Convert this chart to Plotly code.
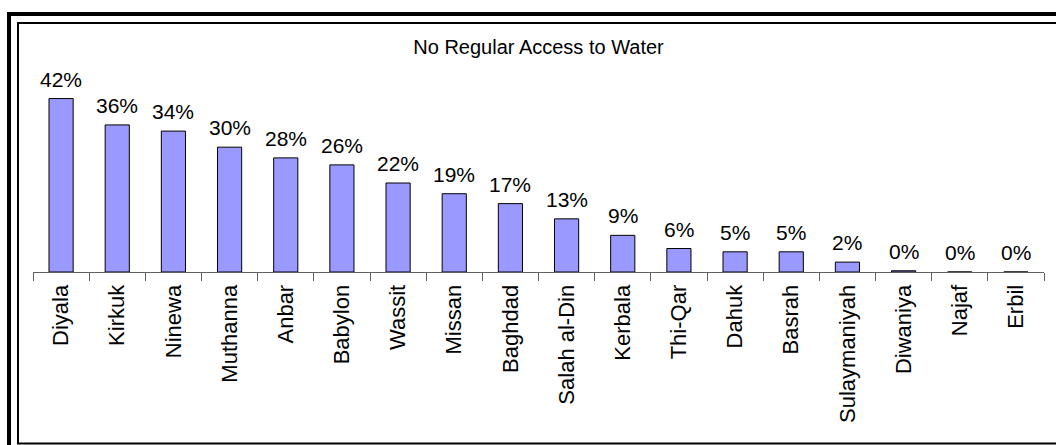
import plotly.graph_objects as go

# Share of households with no regular access to water, by governorate (%)
governorates = [
    "Diyala", "Kirkuk", "Ninewa", "Muthanna", "Anbar", "Babylon", "Wassit",
    "Missan", "Baghdad", "Salah al-Din", "Kerbala", "Thi-Qar", "Dahuk",
    "Basrah", "Sulaymaniyah", "Diwaniya", "Najaf", "Erbil",
]
no_access_pct = [
    42.1, 35.7, 34.2, 30.3, 27.7, 26.0, 21.6,
    19.0, 16.6, 12.9, 8.9, 5.7, 4.9,
    4.9, 2.4, 0.3, 0.0, 0.0,
]
chart_title = "No Regular Access to Water"

W, H = 1056, 445
ML, MR, MT, MB = 33, 12, 30, 173
PLOT_W = W - ML - MR
PLOT_H = H - MT - MB
Y_MAX = PLOT_H / 4.12

FONT = "Arial, Liberation Sans, sans-serif"


def xp(px):
    return (px - ML) / PLOT_W


def yp(py):
    return (H - MB - py) / PLOT_H


fig = go.Figure(
    go.Bar(
        x=governorates,
        y=no_access_pct,
        width=0.43,
        marker=dict(color="#9999FF", line=dict(color="#000000", width=1)),
        hoverinfo="x+y",
    )
)

# value labels above each bar
for name, val in zip(governorates, no_access_pct):
    fig.add_annotation(
        x=name, y=val, text=f"{round(val)}%",
        showarrow=False, yanchor="bottom", yshift=6,
        font=dict(family=FONT, size=21, color="#000000"),
    )

# chart frame: heavy outer border and thin inner border
fig.add_shape(type="rect", xref="paper", yref="paper",
              x0=xp(9), x1=xp(1075), y0=yp(14), y1=yp(470),
              line=dict(color="#000000", width=4), fillcolor="rgba(0,0,0,0)")
fig.add_shape(type="rect", xref="paper", yref="paper",
              x0=xp(18), x1=xp(1075), y0=yp(23), y1=yp(443.5),
              line=dict(color="#000000", width=2), fillcolor="rgba(0,0,0,0)")

fig.update_layout(
    width=W, height=H, autosize=False,
    margin=dict(l=ML, r=MR, t=MT, b=MB, pad=0),
    paper_bgcolor="#FFFFFF", plot_bgcolor="#FFFFFF",
    showlegend=False,
    title=dict(
        text=chart_title, x=0.5, xref="paper", xanchor="center",
        y=1 - 47 / H, yref="container", yanchor="middle",
        font=dict(family=FONT, size=20, color="#000000"),
    ),
    xaxis=dict(
        type="category", range=[-0.5, len(governorates) - 0.5],
        showline=True, linecolor="#606060", linewidth=1,
        ticks="outside", ticklen=8, tickcolor="#606060", tickwidth=1,
        tickson="boundaries", tickangle=-90, ticklabelstandoff=3,
        tickfont=dict(family=FONT, size=22, color="#000000"),
        showgrid=False, zeroline=False, fixedrange=True,
    ),
    yaxis=dict(range=[0, Y_MAX], visible=False, fixedrange=True),
)

fig.write_html("out.html")
